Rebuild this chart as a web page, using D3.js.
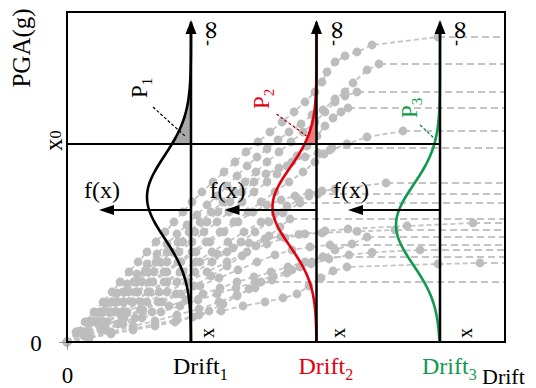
<!DOCTYPE html>
<html><head><meta charset="utf-8">
<script src="https://cdn.jsdelivr.net/npm/d3@7"></script>
<style>body{margin:0;background:#fff}svg{display:block}text{font-family:"Liberation Serif","Times New Roman",serif}</style>
</head><body><script>
// ---------- data ----------
const driftLevels = [1.24, 2.495, 3.73];
const driftSubs = ["1", "2", "3"];
const driftColors = ["#000000", "#e3000f", "#109a4b"];
const pdfMeans = [0.725, 0.675, 0.585];
const pdfSigmas = [0.205, 0.195, 0.20];
const pdfAmp = 0.44;
const x0Level = 0.99;
const fxLevel = 0.66;
const arrowTop = 1.61;
const shadeColors = ["#a8a8a8", "#f27b7b", null];
const xTicks = [0];
const yTicks = [0];

// IDA curves: [drift, PGA]
const ida01 = [[0,0],[0.09,0.05],[0.18,0.10],[0.27,0.15],[0.36,0.20],[0.45,0.25],[0.53,0.30],[0.62,0.35],[0.71,0.40],[0.80,0.45],[0.89,0.50],[0.98,0.55],[1.07,0.60],[1.16,0.65],[1.25,0.70],[1.35,0.75],[1.46,0.80],[1.57,0.85],[1.68,0.90],[1.79,0.95],[1.91,1.00],[2.03,1.05],[2.15,1.10],[2.27,1.15],[2.38,1.20],[2.48,1.25],[2.55,1.30],[2.60,1.35],[2.68,1.40],[2.78,1.43],[2.90,1.45],[3.05,1.485],[3.71,1.525]];
const ida02 = [[0,0],[0.10,0.05],[0.20,0.10],[0.30,0.145],[0.40,0.195],[0.50,0.245],[0.60,0.29],[0.70,0.34],[0.80,0.39],[0.90,0.44],[1.00,0.49],[1.10,0.54],[1.20,0.585],[1.30,0.635],[1.40,0.685],[1.50,0.73],[1.60,0.78],[1.70,0.83],[1.80,0.88],[1.90,0.925],[2.00,0.965],[2.11,1.01],[2.22,1.05],[2.34,1.09],[2.45,1.135],[2.56,1.16],[2.68,1.215],[2.78,1.25],[2.86,1.295],[3.00,1.36],[3.12,1.39]];
const ida03 = [[0,0],[0.11,0.05],[0.22,0.10],[0.33,0.15],[0.44,0.20],[0.56,0.25],[0.67,0.30],[0.78,0.35],[0.89,0.40],[1.00,0.45],[1.11,0.50],[1.22,0.55],[1.33,0.60],[1.44,0.65],[1.56,0.70],[1.67,0.75],[1.78,0.80],[1.89,0.85],[2.00,0.90],[2.12,0.95],[2.24,1.00],[2.36,1.05],[2.48,1.10],[2.58,1.15],[2.68,1.20],[2.78,1.23],[2.90,1.25]];
const ida04 = [[0,0],[0.12,0.05],[0.25,0.10],[0.37,0.15],[0.50,0.20],[0.62,0.25],[0.75,0.30],[0.87,0.35],[1.00,0.40],[1.12,0.45],[1.25,0.50],[1.37,0.55],[1.50,0.60],[1.62,0.65],[1.75,0.70],[1.87,0.75],[2.00,0.80],[2.10,0.84],[2.20,0.88],[2.30,0.93],[2.40,0.98],[2.50,1.03],[2.58,1.08],[2.66,1.12],[2.74,1.15],[2.81,1.17]];
const ida05 = [[0,0],[0.12,0.05],[0.23,0.10],[0.35,0.15],[0.47,0.20],[0.58,0.25],[0.70,0.30],[0.81,0.35],[0.93,0.40],[1.05,0.45],[1.16,0.50],[1.28,0.55],[1.40,0.60],[1.51,0.65],[1.63,0.70],[1.75,0.75],[1.87,0.80],[1.99,0.84],[2.12,0.87],[2.25,0.90],[2.38,0.925],[2.51,0.945],[2.63,0.96],[2.80,0.99],[3.00,1.025],[3.36,1.055]];
const ida06 = [[0,0],[0.14,0.05],[0.28,0.10],[0.42,0.15],[0.56,0.20],[0.69,0.25],[0.83,0.30],[0.97,0.35],[1.11,0.40],[1.25,0.45],[1.39,0.50],[1.53,0.55],[1.67,0.60],[1.81,0.65],[1.94,0.70],[2.08,0.75],[2.22,0.80],[2.36,0.85],[2.48,0.90],[2.57,0.94],[2.65,0.97]];
const ida07 = [[0,0],[0.14,0.05],[0.29,0.10],[0.43,0.15],[0.57,0.20],[0.71,0.25],[0.86,0.30],[1.00,0.35],[1.14,0.40],[1.29,0.45],[1.43,0.50],[1.57,0.55],[1.71,0.60],[1.86,0.65],[2.00,0.685],[2.14,0.71],[2.28,0.73],[2.42,0.745],[2.55,0.755],[2.68,0.765],[3.19,0.795]];
const ida08 = [[0,0],[0.16,0.05],[0.32,0.10],[0.48,0.15],[0.65,0.20],[0.81,0.25],[0.97,0.30],[1.13,0.35],[1.29,0.40],[1.45,0.45],[1.61,0.50],[1.77,0.55],[1.94,0.60],[2.08,0.645],[2.20,0.68],[2.32,0.71],[2.42,0.73],[2.51,0.74]];
const ida09 = [[0,0],[0.18,0.05],[0.37,0.10],[0.55,0.15],[0.74,0.20],[0.92,0.25],[1.10,0.30],[1.28,0.35],[1.45,0.40],[1.60,0.45],[1.74,0.50],[1.88,0.55],[2.02,0.60],[2.16,0.645],[2.33,0.695]];
const ida10 = [[0,0],[0.18,0.04],[0.36,0.08],[0.55,0.12],[0.73,0.16],[0.91,0.20],[1.09,0.24],[1.27,0.28],[1.44,0.33],[1.60,0.38],[1.75,0.43],[1.89,0.48],[2.02,0.53],[2.13,0.575],[2.23,0.615]];
const ida11 = [[0,0],[0.20,0.05],[0.40,0.10],[0.60,0.15],[0.80,0.20],[1.00,0.25],[1.20,0.30],[1.40,0.35],[1.60,0.40],[1.80,0.45],[2.00,0.49],[2.18,0.52],[2.38,0.54],[2.58,0.555],[2.81,0.565],[3.40,0.58],[4.06,0.595]];
const ida12 = [[0,0],[0.16,0.05],[0.33,0.10],[0.50,0.15],[0.66,0.20],[0.83,0.25],[1.00,0.30],[1.16,0.35],[1.33,0.40],[1.50,0.44],[1.66,0.47],[1.82,0.495],[1.98,0.515],[2.14,0.528],[2.32,0.538],[2.55,0.546],[2.90,0.553],[3.28,0.56]];
const ida13 = [[0,0],[0.17,0.03],[0.34,0.06],[0.51,0.09],[0.68,0.12],[0.85,0.15],[1.02,0.18],[1.19,0.21],[1.36,0.24],[1.53,0.27],[1.70,0.30],[1.87,0.325],[2.04,0.35],[2.21,0.375],[2.38,0.40],[2.56,0.425],[2.68,0.46],[2.85,0.49],[3.00,0.525]];
const ida14 = [[0,0],[0.19,0.04],[0.38,0.08],[0.57,0.12],[0.76,0.16],[0.95,0.20],[1.14,0.24],[1.33,0.28],[1.52,0.32],[1.71,0.36],[1.90,0.40],[2.08,0.435],[2.25,0.46],[2.43,0.475],[2.63,0.485]];
const ida15 = [[0,0],[0.19,0.03],[0.38,0.06],[0.56,0.09],[0.75,0.12],[0.94,0.15],[1.13,0.18],[1.31,0.21],[1.50,0.24],[1.69,0.27],[1.88,0.30],[2.06,0.33],[2.25,0.36],[2.44,0.39],[2.62,0.415],[2.82,0.435],[3.05,0.448],[3.53,0.46]];
const ida16 = [[0,0],[0.22,0.025],[0.44,0.05],[0.66,0.08],[0.88,0.105],[1.10,0.135],[1.32,0.165],[1.52,0.20],[1.70,0.235],[1.88,0.27],[2.05,0.31],[2.20,0.345],[2.33,0.375],[2.45,0.40],[2.56,0.425]];
const ida17 = [[0,0],[0.22,0.02],[0.44,0.045],[0.66,0.065],[0.88,0.09],[1.10,0.11],[1.32,0.135],[1.54,0.155],[1.76,0.18],[1.98,0.20],[2.16,0.22],[2.30,0.24],[2.42,0.28],[2.54,0.32],[2.66,0.355],[2.80,0.375],[3.71,0.39],[4.13,0.395]];
const ida18 = [[0,0],[0.22,0.02],[0.44,0.04],[0.66,0.06],[0.88,0.08],[1.08,0.10],[1.26,0.125],[1.42,0.155],[1.56,0.19],[1.70,0.23],[1.82,0.265],[1.94,0.30]];
const idaCurves = [ida01,ida02,ida03,ida04,ida05,ida06,ida07,ida08,ida09,ida10,ida11,ida12,ida13,ida14,ida15,ida16,ida17,ida18];

// ---------- drawing ----------
const W = 536, H = 388;
const svg = d3.select("body").append("svg").attr("width", W).attr("height", H);
const x = d3.scaleLinear().domain([0, 4.38]).range([67, 505]);
const y = d3.scaleLinear().domain([0, 1.65]).range([342, 12]);
const xMax = x.domain()[1];
const serif = '"Liberation Serif","Times New Roman",serif';

const gray = "#c4c4c4";
const lineGen = d3.line().x(d => x(d[0])).y(d => y(d[1]));

// IDA lines
const gl = svg.append("g");
idaCurves.forEach(c => {
  gl.append("path").attr("d", lineGen(c)).attr("fill", "none")
    .attr("stroke", gray).attr("stroke-width", 1.8).attr("stroke-dasharray", "5,3");
  const last = c[c.length - 1];
  gl.append("path").attr("d", lineGen([last, [xMax, last[1]]])).attr("fill", "none")
    .attr("stroke", gray).attr("stroke-width", 1.8).attr("stroke-dasharray", "7,4");
});
// IDA dots
const gd = svg.append("g");
idaCurves.forEach(c => {
  gd.selectAll(null).data(c).enter().append("circle")
    .attr("cx", d => x(d[0])).attr("cy", d => y(d[1])).attr("r", 4.4).attr("fill", "#bdbdbd");
});

// axes (only the origin tick)
const xa = svg.append("g").attr("transform", `translate(0,${y(0)})`)
  .call(d3.axisBottom(x).tickValues(xTicks).tickSize(8).tickFormat(d3.format("d")));
xa.select(".domain").remove();
xa.selectAll(".tick line").attr("stroke", "#999");
xa.selectAll(".tick text").attr("dy", null).attr("y", 41).attr("font-size", 23)
  .attr("fill", "#000").attr("font-family", serif);
const ya = svg.append("g").attr("transform", `translate(${x(0)},0)`)
  .call(d3.axisLeft(y).tickValues(yTicks).tickSize(8).tickFormat(d3.format("d")));
ya.select(".domain").remove();
ya.selectAll(".tick line").attr("stroke", "#999");
ya.selectAll(".tick text").attr("dy", null).attr("x", -31).attr("y", 8).attr("text-anchor", "middle")
  .attr("font-size", 23).attr("fill", "#000").attr("font-family", serif);

// frame
svg.append("rect").attr("x", x(0)).attr("y", y(1.65)).attr("width", x(xMax) - x(0)).attr("height", y(0) - y(1.65))
  .attr("fill", "none").attr("stroke", "#000").attr("stroke-width", 2);

// pdf shading + curves
const pgaSamples = d3.range(0, 1.6001, 0.01);
const pdfX = (i, a) => x(driftLevels[i] - pdfAmp * Math.exp(-Math.pow(a - pdfMeans[i], 2) / (2 * pdfSigmas[i] * pdfSigmas[i])));
driftLevels.forEach((dl, i) => {
  if (shadeColors[i]) {
    const area = d3.area().y(a => y(a)).x0(x(dl)).x1(a => pdfX(i, a));
    svg.append("path").attr("d", area(pgaSamples.filter(a => a >= x0Level))).attr("fill", shadeColors[i]);
  }
  const pl = d3.line().x(a => pdfX(i, a)).y(a => y(a));
  svg.append("path").attr("d", pl(pgaSamples)).attr("fill", "none")
    .attr("stroke", driftColors[i]).attr("stroke-width", 2.6);
});

// x0 line
svg.append("line").attr("x1", x(0)).attr("x2", x(driftLevels[2])).attr("y1", y(x0Level)).attr("y2", y(x0Level))
  .attr("stroke", "#000").attr("stroke-width", 2);

driftLevels.forEach((dl, i) => {
  const cx = x(dl), tip = y(arrowTop);
  // vertical arrow
  svg.append("line").attr("x1", cx).attr("x2", cx).attr("y1", y(0)).attr("y2", tip + 8)
    .attr("stroke", "#000").attr("stroke-width", 2.5);
  svg.append("path").attr("d", `M${cx - 5.5},${tip + 14}L${cx},${tip}L${cx + 5.5},${tip + 14}Z`).attr("fill", "#000");
  // f(x) arrow
  const fy = y(fxLevel), fl = cx - 92;
  svg.append("line").attr("x1", cx).attr("x2", fl + 10).attr("y1", fy).attr("y2", fy)
    .attr("stroke", "#000").attr("stroke-width", 2.2);
  svg.append("path").attr("d", `M${fl},${fy}L${fl + 15},${fy - 5}L${fl + 15},${fy + 5}Z`).attr("fill", "#000");
  svg.append("text").attr("x", cx - 107).attr("y", fy - 12).attr("font-size", 24).text("f(x)");
  // -inf label (rotated)
  const inf = svg.append("text").attr("transform", `translate(${cx + 28},46) rotate(-90)`);
  inf.append("tspan").attr("font-size", 18).attr("dy", -7).text("-");
  inf.append("tspan").attr("font-size", 26).attr("font-family", "DejaVu Serif").attr("dy", 7).attr("dx", -1).text("\u221E");
  // x label near bottom
  const xoff = [17, 22, 26][i];
  svg.append("text").attr("transform", `translate(${cx + xoff + 6},338) rotate(-90)`).attr("font-size", 20).text("x");
  // Drift label
  const t = svg.append("text").attr("x", cx - 18).attr("y", 374).attr("font-size", 24).attr("fill", driftColors[i]).text("Drift");
  t.append("tspan").attr("dy", 6).attr("font-size", 16).text(driftSubs[i]);
});

// P labels with leaders
const pLab = [{dx: -44, y: 98, l: [-38, 107, -5, 137]}, {dx: -48, y: 109, l: [-40, 114, -10, 136]}, {dx: -23, y: 118, l: [-20, 125, -5, 139]}];
const leaderColors = ["#000", "#b0000a", "#0b7a3a"];
pLab.forEach((p, i) => {
  const cx = x(driftLevels[i]);
  const t = svg.append("text").attr("transform", `translate(${cx + p.dx},${p.y}) rotate(-90)`)
    .attr("font-size", 23).attr("fill", driftColors[i]).text("P");
  t.append("tspan").attr("dy", 5).attr("font-size", 15).text(driftSubs[i]);
  svg.append("line").attr("x1", cx + p.l[0]).attr("y1", p.l[1]).attr("x2", cx + p.l[2]).attr("y2", p.l[3])
    .attr("stroke", leaderColors[i]).attr("stroke-width", 1.2).attr("stroke-dasharray", "3,2");
});

// axis titles
svg.append("text").attr("transform", "translate(30,48) rotate(-90)").attr("text-anchor", "middle").attr("font-size", 25).text("PGA(g)");
const x0t = svg.append("text").attr("transform", `translate(62,${y(x0Level) + 7}) rotate(-90)`).attr("font-size", 25).text("x");
x0t.append("tspan").attr("dy", -1).attr("font-size", 16).text("0");
svg.append("text").attr("x", 482).attr("y", 384).attr("font-size", 22).text("Drift");
</script></body></html>
